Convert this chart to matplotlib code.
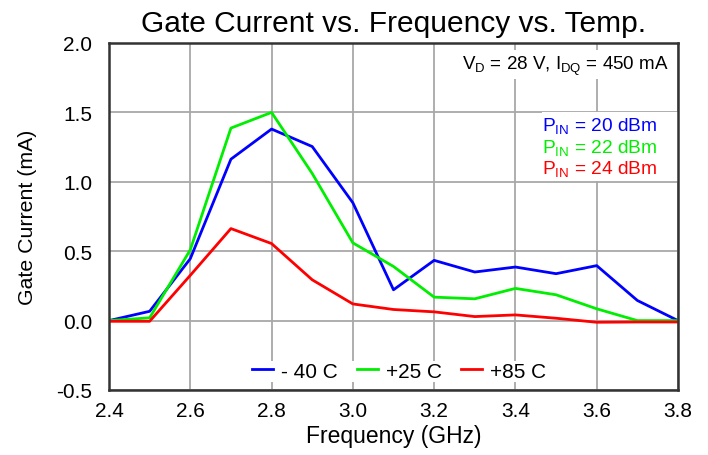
import matplotlib
matplotlib.use("Agg")
import matplotlib.pyplot as plt
from matplotlib.patches import Rectangle

plt.rcParams['font.family'] = ['Liberation Sans', 'DejaVu Sans']

freq = [2.4, 2.5, 2.6, 2.7, 2.8, 2.9, 3.0, 3.1, 3.2, 3.3, 3.4, 3.5, 3.6, 3.7, 3.8]
cur_m40 = [0.0, 0.067, 0.446, 1.163, 1.38, 1.254, 0.849, 0.222, 0.434, 0.35, 0.386, 0.338, 0.396, 0.145, 0.0]
cur_p25 = [0.0, 0.02, 0.51, 1.387, 1.5, 1.06, 0.56, 0.39, 0.169, 0.157, 0.232, 0.186, 0.085, 0.0, 0.0]
cur_p85 = [-0.005, -0.005, 0.326, 0.663, 0.555, 0.294, 0.12, 0.08, 0.063, 0.029, 0.041, 0.017, -0.012, -0.01, -0.01]
labels = ['- 40 C', '+25 C', '+85 C']
colors = ['#0000ff', '#00ee00', '#ff0000']

xticks = [2.4, 2.6, 2.8, 3.0, 3.2, 3.4, 3.6, 3.8]
yticks = [-0.5, 0.0, 0.5, 1.0, 1.5, 2.0]

fig = plt.figure(figsize=(7.08, 4.56), dpi=100)
ax = fig.add_axes([109/708, 1 - 391/456, (678-109)/708, (391-44)/456])

for y, lab, c in zip([cur_m40, cur_p25, cur_p85], labels, colors):
    ax.plot(freq, y, color=c, lw=2, label=lab)

ax.set_xlim(2.4, 3.8)
ax.set_ylim(-0.5, 2.0)
ax.set_xticks(xticks)
ax.set_xticklabels(['%.1f' % v for v in xticks])
ax.set_yticks(yticks)
ax.set_yticklabels(['%.1f' % v for v in yticks])
ax.tick_params(length=0, labelsize=15)
ax.tick_params(axis='x', pad=8)
ax.tick_params(axis='y', pad=12)
ax.grid(True, color='#a8a8a8', lw=1.3)
ax.set_axisbelow(True)
for s in ax.spines.values():
    s.set_linewidth(1.8)
    s.set_color('#333333')

ax.set_title('Gate Current vs. Frequency vs. Temp.', fontsize=21.5, pad=9)
ax.set_xlabel('Frequency (GHz)', fontsize=16.5, labelpad=3)
ax.set_ylabel('Gate Current (mA)', fontsize=15.3, labelpad=14)

# VD / IDQ condition
ax.text(0.984, 0.937, r'V$_\mathregular{D}$ = 28 V, I$_\mathregular{DQ}$ = 450 mA', transform=ax.transAxes,
        ha='right', va='center', fontsize=13.5,
        bbox=dict(facecolor='white', edgecolor='none', pad=2))

# white block behind the input power labels
ax.add_patch(Rectangle((0.761, 0.602), 0.239, 0.199, transform=ax.transAxes,
                       facecolor='white', edgecolor='none', zorder=1.5))
pin_text = [r'P$_\mathregular{IN}$ = 20 dBm', r'P$_\mathregular{IN}$ = 22 dBm', r'P$_\mathregular{IN}$ = 24 dBm']
for i, (t, c) in enumerate(zip(pin_text, colors)):
    ax.text(0.963, 0.761 - i * 0.062, t, transform=ax.transAxes, ha='right', va='center',
            fontsize=13.8, color=c, zorder=3)

leg = ax.legend(loc='lower center', bbox_to_anchor=(0.51, 0.0), ncol=3, frameon=True,
                fontsize=15, handlelength=1.0, handletextpad=0.4, columnspacing=0.9,
                borderaxespad=0.4, borderpad=0.05, fancybox=False)
leg.get_frame().set_edgecolor('none')
leg.get_frame().set_facecolor('white')
leg.get_frame().set_alpha(1)

fig.savefig('out.png', dpi=100)
